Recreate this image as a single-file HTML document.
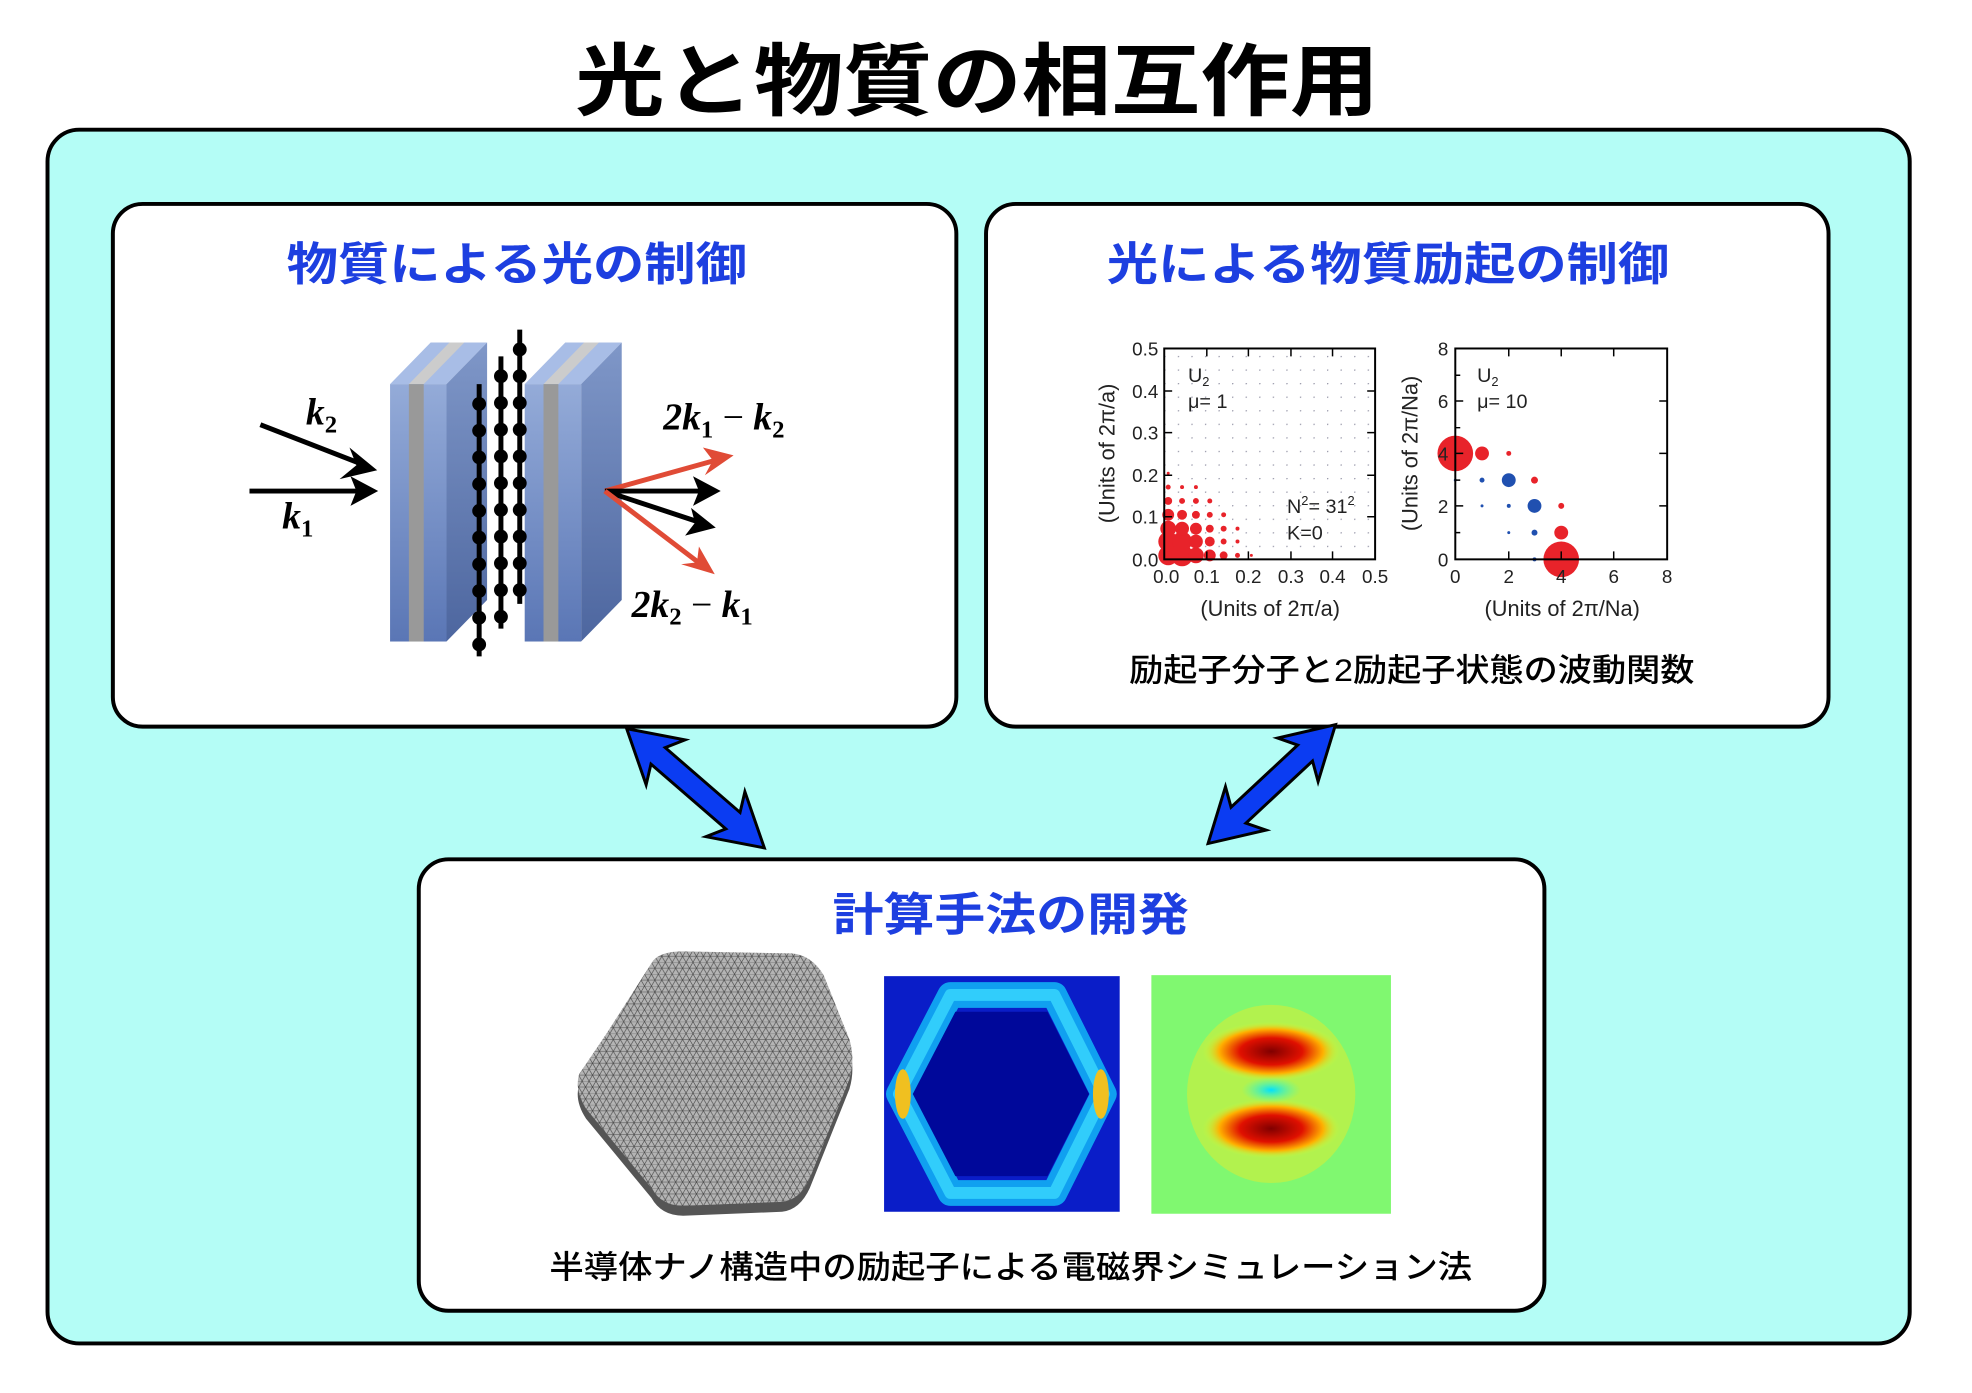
<!DOCTYPE html>
<html><head><meta charset="utf-8"><style>
html,body{margin:0;padding:0;background:#fff}
svg{display:block}
.jp{font-family:"Liberation Sans","Noto Sans CJK JP",sans-serif}
.ax{font-family:"Liberation Sans",sans-serif;font-size:19px;fill:#222}
.m{font-family:"Liberation Serif",serif;font-weight:bold;font-style:italic;font-size:38px}
</style></head><body>
<svg width="1972" height="1393" viewBox="0 0 1972 1393" xmlns="http://www.w3.org/2000/svg">
<defs>
<pattern id="mesh" width="14" height="12" patternUnits="userSpaceOnUse">
<rect width="14" height="12" fill="#b4b4b4"/>
<path d="M0 0L14 0M0 6L14 6M0 0L7 12M7 0L14 12M7 0L0 12M14 0L7 12" stroke="#444" stroke-width="0.6" fill="none"/>
</pattern>
<pattern id="grid1" x="1176" y="565" width="13.7" height="13.7" patternUnits="userSpaceOnUse">
<circle cx="0.5" cy="0.5" r="0.9" fill="#99a"/>
</pattern>
<linearGradient id="slab" x1="0" y1="0" x2="0" y2="1"><stop offset="0" stop-color="#94abd8"/><stop offset="1" stop-color="#5a76b5"/></linearGradient>
<linearGradient id="side" x1="0" y1="0" x2="0" y2="1"><stop offset="0" stop-color="#7f97c8"/><stop offset="1" stop-color="#4d669f"/></linearGradient>
<radialGradient id="blob" cx="0.5" cy="0.5" r="0.5"><stop offset="0" stop-color="#800000"/><stop offset="0.45" stop-color="#e01000"/><stop offset="0.75" stop-color="#ffb000"/><stop offset="1" stop-color="#c8ff40" stop-opacity="0"/></radialGradient>
<radialGradient id="cb" cx="0.5" cy="0.5" r="0.5"><stop offset="0" stop-color="#00e0ff"/><stop offset="1" stop-color="#40ffc0" stop-opacity="0"/></radialGradient>
</defs>
<g transform="scale(0.99)">
<!-- title -->
<text class="jp" x="987" y="110" font-size="80" font-weight="700" text-anchor="middle" textLength="812" lengthAdjust="spacingAndGlyphs">光と物質の相互作用</text>

<!-- outer -->
<rect x="48" y="131" width="1881" height="1226" rx="32" fill="#b4fdf6" stroke="#000" stroke-width="4"/>

<!-- panels -->
<rect x="114" y="206" width="852" height="528" rx="30" fill="#fff" stroke="#000" stroke-width="4"/>
<rect x="996" y="206" width="851" height="528" rx="30" fill="#fff" stroke="#000" stroke-width="4"/>
<rect x="423" y="868" width="1137" height="456" rx="30" fill="#fff" stroke="#000" stroke-width="4"/>

<text class="jp" x="522" y="283" font-size="46" font-weight="700" fill="#1d3fe0" text-anchor="middle" textLength="465" lengthAdjust="spacingAndGlyphs">物質による光の制御</text>
<text class="jp" x="1402" y="283" font-size="46" font-weight="700" fill="#1d3fe0" text-anchor="middle" textLength="568" lengthAdjust="spacingAndGlyphs">光による物質励起の制御</text>
<text class="jp" x="1021" y="940" font-size="46" font-weight="700" fill="#1d3fe0" text-anchor="middle" textLength="360" lengthAdjust="spacingAndGlyphs">計算手法の開発</text>
<text class="jp" x="1426" y="688" font-size="32" font-weight="500" text-anchor="middle" textLength="571" lengthAdjust="spacingAndGlyphs">励起子分子と2励起子状態の波動関数</text>
<text class="jp" x="1021" y="1291" font-size="32" font-weight="500" text-anchor="middle" textLength="932" lengthAdjust="spacingAndGlyphs">半導体ナノ構造中の励起子による電磁界シミュレーション法</text>

<!-- slabs -->
<g>
<polygon points="394,388 435,346 492,346 451,388" fill="#a8bde6"/>
<polygon points="413,388 454,346 469,346 428,388" fill="#ccc"/>
<polygon points="451,388 492,346 492,606 451,648" fill="url(#side)"/>
<rect x="394" y="388" width="57" height="260" fill="url(#slab)"/>
<rect x="413" y="388" width="15" height="260" fill="#999"/>
</g>
<g>
<polygon points="530,388 571,346 628,346 587,388" fill="#a8bde6"/>
<polygon points="549,388 590,346 605,346 564,388" fill="#ccc"/>
<polygon points="587,388 628,346 628,606 587,648" fill="url(#side)"/>
<rect x="530" y="388" width="57" height="260" fill="url(#slab)"/>
<rect x="549" y="388" width="15" height="260" fill="#999"/>
</g>
<!-- chains -->
<g stroke="#000" stroke-width="5">
<line x1="484" y1="388" x2="484" y2="663"/>
<line x1="506" y1="360" x2="506" y2="635"/>
<line x1="525" y1="333" x2="525" y2="610"/>
</g>
<g fill="#000">
<circle cx="484" cy="408" r="7"/><circle cx="484" cy="435" r="7"/><circle cx="484" cy="462" r="7"/><circle cx="484" cy="489" r="7"/><circle cx="484" cy="516" r="7"/><circle cx="484" cy="543" r="7"/><circle cx="484" cy="570" r="7"/><circle cx="484" cy="597" r="7"/><circle cx="484" cy="624" r="7"/><circle cx="484" cy="651" r="7"/>
<circle cx="506" cy="380" r="7"/><circle cx="506" cy="407" r="7"/><circle cx="506" cy="434" r="7"/><circle cx="506" cy="461" r="7"/><circle cx="506" cy="488" r="7"/><circle cx="506" cy="515" r="7"/><circle cx="506" cy="542" r="7"/><circle cx="506" cy="569" r="7"/><circle cx="506" cy="596" r="7"/><circle cx="506" cy="623" r="7"/>
<circle cx="525" cy="353" r="7"/><circle cx="525" cy="380" r="7"/><circle cx="525" cy="407" r="7"/><circle cx="525" cy="434" r="7"/><circle cx="525" cy="461" r="7"/><circle cx="525" cy="488" r="7"/><circle cx="525" cy="515" r="7"/><circle cx="525" cy="542" r="7"/><circle cx="525" cy="569" r="7"/><circle cx="525" cy="596" r="7"/>
</g>
<!-- arrows left panel -->
<g stroke-width="5" fill="none">
<line x1="263" y1="429" x2="366" y2="469" stroke="#000"/>
<line x1="252" y1="496" x2="366" y2="496" stroke="#000"/>
<line x1="611" y1="496" x2="726" y2="464" stroke="#e04b36"/>
<line x1="611" y1="496" x2="714" y2="496" stroke="#000"/>
<line x1="611" y1="496" x2="708" y2="528" stroke="#000"/>
<line x1="611" y1="496" x2="708" y2="570" stroke="#e04b36"/>
</g>
<polygon points="381,475 353,452 360,470 343,484" fill="#000"/>
<polygon points="382,496 354,481 360,496 354,511" fill="#000"/>
<polygon points="741,460 710,452 720,465 712,480" fill="#e04b36"/>
<polygon points="728,496 700,481 706,496 700,511" fill="#000"/>
<polygon points="723,533 698,513 702,528 692,541" fill="#000"/>
<polygon points="722,580 706,552 704,568 688,570" fill="#e04b36"/>
<text class="m" x="309" y="429">k<tspan font-size="25" dy="8" font-style="normal">2</tspan></text>
<text class="m" x="285" y="534">k<tspan font-size="25" dy="8" font-style="normal">1</tspan></text>
<text class="m" x="670" y="434">2k<tspan font-size="25" dy="8" font-style="normal">1</tspan><tspan dy="-8" font-style="normal" font-weight="normal"> − </tspan>k<tspan font-size="25" dy="8" font-style="normal">2</tspan></text>
<text class="m" x="638" y="623">2k<tspan font-size="25" dy="8" font-style="normal">2</tspan><tspan dy="-8" font-style="normal" font-weight="normal"> − </tspan>k<tspan font-size="25" dy="8" font-style="normal">1</tspan></text>

<!-- left plot -->
<rect x="1176" y="352" width="213" height="213" fill="url(#grid1)"/>
<g fill="#e8232a">
<circle cx="1180" cy="561" r="10"/><circle cx="1180" cy="547" r="10"/><circle cx="1194" cy="561" r="11"/><circle cx="1194" cy="547" r="10"/>
<circle cx="1180" cy="534" r="8"/><circle cx="1208" cy="561" r="8"/><circle cx="1194" cy="534" r="7"/><circle cx="1208" cy="547" r="7"/><circle cx="1208" cy="534" r="6"/>
<circle cx="1180" cy="520" r="6"/><circle cx="1222" cy="561" r="6"/><circle cx="1194" cy="520" r="5"/><circle cx="1222" cy="547" r="5"/><circle cx="1208" cy="520" r="4"/><circle cx="1222" cy="534" r="4"/>
<circle cx="1180" cy="506" r="4"/><circle cx="1236" cy="561" r="4"/><circle cx="1194" cy="506" r="3"/><circle cx="1236" cy="547" r="3"/><circle cx="1222" cy="520" r="3"/><circle cx="1208" cy="506" r="3"/><circle cx="1236" cy="534" r="3"/><circle cx="1236" cy="520" r="2.5"/><circle cx="1222" cy="506" r="2.5"/>
<circle cx="1180" cy="492" r="2.5"/><circle cx="1250" cy="561" r="2.5"/><circle cx="1194" cy="492" r="2"/><circle cx="1250" cy="547" r="2"/><circle cx="1208" cy="492" r="2"/><circle cx="1250" cy="534" r="2"/><circle cx="1180" cy="478" r="1.5"/><circle cx="1264" cy="561" r="1.5"/>
</g>
<rect x="1176" y="352" width="213" height="213" fill="none" stroke="#000" stroke-width="2"/>
<g stroke="#000" stroke-width="1.5">
<path d="M1176 395h8M1176 437h8M1176 480h8M1176 522h8M1389 395h-8M1389 437h-8M1389 480h-8M1389 522h-8M1219 565v-8M1261 565v-8M1304 565v-8M1346 565v-8M1219 352v8M1261 352v8M1304 352v8M1346 352v8"/>
</g>
<g class="ax" text-anchor="end">
<text x="1170" y="359">0.5</text><text x="1170" y="402">0.4</text><text x="1170" y="444">0.3</text><text x="1170" y="487">0.2</text><text x="1170" y="529">0.1</text><text x="1170" y="572">0.0</text>
</g>
<g class="ax" text-anchor="middle">
<text x="1178" y="589">0.0</text><text x="1219" y="589">0.1</text><text x="1261" y="589">0.2</text><text x="1304" y="589">0.3</text><text x="1346" y="589">0.4</text><text x="1389" y="589">0.5</text>
<text x="1283" y="622" font-size="22">(Units of 2π/a)</text>
<text transform="translate(1126,458) rotate(-90)" font-size="22">(Units of 2π/a)</text>
<text transform="translate(1432,458) rotate(-90)" font-size="22">(Units of 2π/Na)</text>
<text x="1578" y="622" font-size="22">(Units of 2π/Na)</text>
</g>
<g class="ax" font-size="20">
<text x="1200" y="386" font-size="20">U<tspan font-size="13" dy="4">2</tspan></text>
<text x="1200" y="412" font-size="20">μ=   1</text>
<text x="1300" y="518" font-size="20">N<tspan font-size="13" dy="-8">2</tspan><tspan dy="8">= 31</tspan><tspan font-size="13" dy="-8">2</tspan></text>
<text x="1300" y="545" font-size="20">K=0</text>
<text x="1492" y="386" font-size="20">U<tspan font-size="13" dy="4">2</tspan></text>
<text x="1492" y="412" font-size="20">μ=  10</text>
</g>

<!-- right plot -->
<g>
<circle cx="1470" cy="458" r="18" fill="#e8232a"/>
<circle cx="1577" cy="565" r="18" fill="#e8232a"/>
<circle cx="1497" cy="458" r="7" fill="#e8232a"/>
<circle cx="1577" cy="538" r="7" fill="#e8232a"/>
<circle cx="1524" cy="458" r="2.5" fill="#e8232a"/>
<circle cx="1550" cy="485" r="3.5" fill="#e8232a"/>
<circle cx="1577" cy="511" r="3" fill="#e8232a"/>
<circle cx="1524" cy="485" r="7" fill="#2050b0"/>
<circle cx="1550" cy="511" r="7" fill="#2050b0"/>
<circle cx="1497" cy="485" r="2.5" fill="#2050b0"/>
<circle cx="1470" cy="485" r="1.5" fill="#2050b0"/>
<circle cx="1524" cy="511" r="2" fill="#2050b0"/>
<circle cx="1497" cy="511" r="1.5" fill="#2050b0"/>
<circle cx="1550" cy="538" r="3" fill="#2050b0"/>
<circle cx="1524" cy="538" r="1.5" fill="#2050b0"/>
<circle cx="1550" cy="565" r="2" fill="#2050b0"/>
</g>
<rect x="1470" y="352" width="214" height="213" fill="none" stroke="#000" stroke-width="2"/>
<g stroke="#000" stroke-width="1.5">
<path d="M1470 379h5M1470 405h8M1470 432h5M1470 458h8M1470 485h5M1470 511h8M1470 538h5M1684 405h-8M1684 458h-8M1684 511h-8M1524 565v-8M1577 565v-8M1630 565v-8M1524 352v8M1577 352v8M1630 352v8"/>
</g>
<g class="ax" text-anchor="end">
<text x="1463" y="359">8</text><text x="1463" y="412">6</text><text x="1463" y="465">4</text><text x="1463" y="518">2</text><text x="1463" y="572">0</text>
</g>
<g class="ax" text-anchor="middle">
<text x="1470" y="589">0</text><text x="1524" y="589">2</text><text x="1577" y="589">4</text><text x="1630" y="589">6</text><text x="1684" y="589">8</text>
</g>

<!-- double arrows -->
<g fill="#0b3cf2" stroke="#000" stroke-width="3" stroke-linejoin="miter">
<polygon transform="translate(633,736) rotate(40.9)" points="0,0 52,-30 42,-11 142,-11 132,-30 184,0 132,30 142,11 42,11 52,30"/>
<polygon transform="translate(1349,732) rotate(137)" points="0,0 52,-30 42,-11 134,-11 124,-30 176,0 124,30 134,11 42,11 52,30"/>
</g>

<!-- mesh hexagon -->
<path d="M612,1055 L660,975 Q668,966 690,966 L800,968 Q820,970 832,990 L858,1060 Q864,1080 858,1100 L818,1200 Q808,1222 790,1224 L690,1228 Q668,1228 658,1210 L592,1130 Q580,1112 585,1095 Z" fill="#555"/>
<path d="M612,1045 L660,970 Q668,961 690,961 L800,963 Q820,965 832,985 L858,1050 Q864,1070 858,1090 L818,1190 Q808,1212 790,1214 L690,1218 Q668,1218 658,1200 L592,1120 Q580,1100 585,1085 Z" fill="url(#mesh)"/>

<!-- blue field -->
<rect x="893" y="986" width="238" height="238" fill="#0a1dc8"/>
<polygon points="960,1005 1065,1005 1115,1105 1065,1205 960,1205 908,1105" fill="none" stroke="#10a0f0" stroke-width="26" stroke-linejoin="round"/>
<polygon points="960,1005 1065,1005 1115,1105 1065,1205 960,1205 908,1105" fill="none" stroke="#40e0ff" stroke-width="12" stroke-linejoin="round" opacity="0.7"/>
<polygon points="965,1022 1058,1022 1100,1105 1058,1188 965,1188 922,1105" fill="#00089a"/>
<ellipse cx="912" cy="1105" rx="8" ry="25" fill="#f0c020"/>
<ellipse cx="1112" cy="1105" rx="8" ry="25" fill="#f0c020"/>

<!-- green field -->
<rect x="1163" y="985" width="242" height="241" fill="#80f870"/>
<ellipse cx="1284" cy="1105" rx="85" ry="90" fill="#c8f040" opacity="0.7"/>
<ellipse cx="1284" cy="1062" rx="70" ry="30" fill="url(#blob)"/>
<ellipse cx="1284" cy="1140" rx="70" ry="30" fill="url(#blob)"/>
<ellipse cx="1284" cy="1101" rx="30" ry="13" fill="url(#cb)"/>
</g>
</svg>
</body></html>
